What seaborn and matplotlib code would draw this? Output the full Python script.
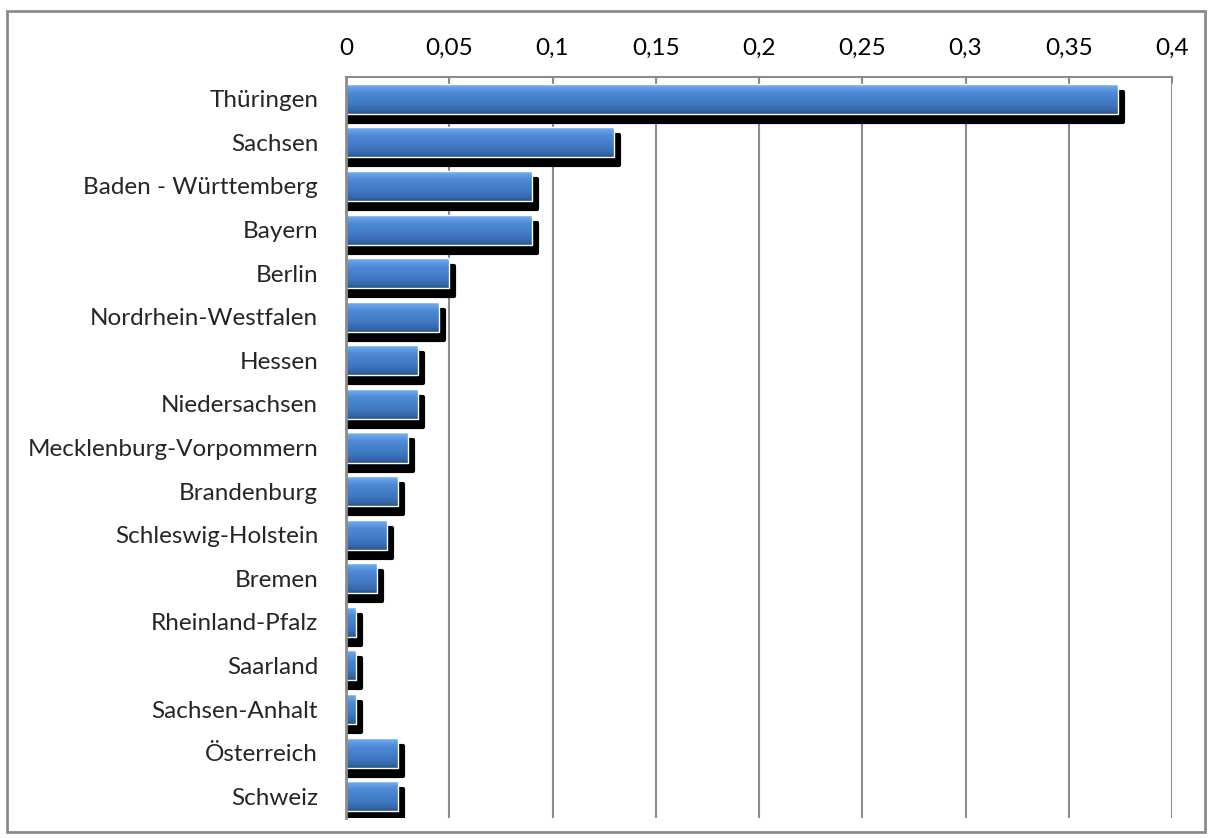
import numpy as np
import matplotlib
matplotlib.use("Agg")
import matplotlib.pyplot as plt
import matplotlib.transforms as mtransforms
from matplotlib.patches import Rectangle
from matplotlib.ticker import FuncFormatter
import seaborn as sns

# data
regions = ["Thüringen", "Sachsen", "Baden - Württemberg", "Bayern", "Berlin",
           "Nordrhein-Westfalen", "Hessen", "Niedersachsen", "Mecklenburg-Vorpommern",
           "Brandenburg", "Schleswig-Holstein", "Bremen", "Rheinland-Pfalz",
           "Saarland", "Sachsen-Anhalt", "Österreich", "Schweiz"]
values = [0.374, 0.130, 0.090, 0.090, 0.050, 0.045, 0.035, 0.035, 0.030,
          0.025, 0.020, 0.015, 0.005, 0.005, 0.005, 0.025, 0.025]
xticks = [0, 0.05, 0.1, 0.15, 0.2, 0.25, 0.3, 0.35, 0.4]

sns.set_style("white")
plt.rcParams["font.family"] = ["Lato", "DejaVu Sans"]

fig = plt.figure(figsize=(12.12, 8.38), dpi=100)
ax = fig.add_axes([346 / 1212, 1 - 818 / 838, (1172 - 346) / 1212, (818 - 77) / 838])

sns.barplot(x=values, y=regions, orient="h", color="#4a86d2", width=0.69, ax=ax,
            zorder=3)
ax.set_xlim(0, 0.4)
ax.set_ylim(len(regions) - 0.5, -0.5)

# vertical gradient for the bars (light top, dark bottom)
stops = [(0.0, "#b5d6f7"), (0.08, "#6eabf0"), (0.3, "#4f8ad6"),
         (0.7, "#3f76c0"), (0.9, "#3466a8"), (1.0, "#2b5185")]
t = np.linspace(0, 1, 80)
pos = [s[0] for s in stops]
rgb = np.array([matplotlib.colors.to_rgb(s[1]) for s in stops])
col = np.stack([np.interp(t, pos, rgb[:, i]) for i in range(3)], axis=1)
img = np.repeat(col[:, None, :], 2, axis=1)

# shadow: shifted 5px right / 8px down, starting at the axis
px = 0.4 / 826
shadow_tr = ax.transData + mtransforms.ScaledTranslation(5 / 100, -8 / 100,
                                                          fig.dpi_scale_trans)
for p in list(ax.patches):
    p.set_edgecolor("none")
    x0, y0, w, h = p.get_x(), p.get_y(), p.get_width(), p.get_height()
    ax.add_patch(Rectangle((x0 - 5 * px, y0), w + 5 * px, h, transform=shadow_tr,
                           fc="black", ec="black", lw=3, joinstyle="round", zorder=2.5))
    im = ax.imshow(img, extent=(x0, x0 + w, y0 + h, y0), aspect="auto",
                   interpolation="bilinear", zorder=3.5)
    im.set_clip_path(p)
    ax.add_patch(Rectangle((x0, y0), w, h, fill=False, ec="white", lw=1.0, zorder=4))

ax.set_xticks(xticks)
ax.xaxis.set_major_formatter(FuncFormatter(lambda v, pos: f"{v:g}".replace(".", ",")))
ax.xaxis.tick_top()
ax.tick_params(axis="x", labelsize=17.5, length=4, color="#888888", direction="in",
               pad=13, colors="black")
ax.tick_params(axis="y", labelsize=17.5, length=0, pad=20)
ax.grid(axis="x", color="#8c8c8c", lw=1.5)
ax.set_axisbelow(True)
for s in ["right", "bottom"]:
    ax.spines[s].set_visible(False)
ax.spines["top"].set_color("#8c8c8c")
ax.spines["left"].set_color("#8c8c8c")
ax.spines["top"].set_linewidth(1.5)
ax.spines["left"].set_linewidth(2)
ax.spines["left"].set_zorder(5)
ax.set_xlabel("")
ax.set_ylabel("")

# chart border
fig.patches.append(Rectangle((7 / 1212, 1 - 832 / 838), 1198 / 1212, 821 / 838,
                             transform=fig.transFigure, fill=False, ec="#8c8c8c", lw=2))

fig.savefig("out.png", dpi=100)
